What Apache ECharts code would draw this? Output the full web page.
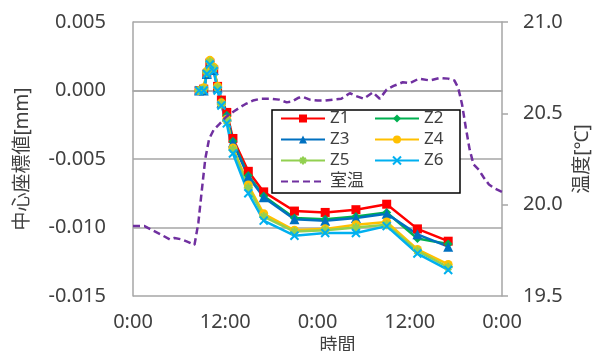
<!DOCTYPE html>
<html>
<head>
<meta charset="utf-8">
<script src="https://cdn.jsdelivr.net/npm/echarts@6/dist/echarts.min.js"></script>
<style>
  html, body { margin: 0; padding: 0; background: #fff; }
  #chart { width: 592px; height: 351px; }
</style>
</head>
<body>
<div id="chart"></div>
<script>
// Measurement times (hours from the first 0:00)
const measureHours = [8.6, 9.2, 9.6, 10.0, 10.5, 11.0, 11.5, 12.2, 13.0, 15.0, 17.0, 21.0, 25.0, 29.0, 33.0, 37.0, 41.0];

// Center coordinate values [mm] for each position
const z1 = [0.0000, 0.0001, 0.0012, 0.0020, 0.0015, 0.0003, -0.0007, -0.0016, -0.0035, -0.0059, -0.0074, -0.0088, -0.0089, -0.0087, -0.0083, -0.0101, -0.0110];
const z2 = [0.0000, 0.0001, 0.0013, 0.0021, 0.0016, 0.0003, -0.0008, -0.0018, -0.0037, -0.0062, -0.0077, -0.0093, -0.0094, -0.0092, -0.0089, -0.0108, -0.0112];
const z3 = [0.0000, 0.0000, 0.0012, 0.0020, 0.0015, 0.0002, -0.0009, -0.0019, -0.0038, -0.0063, -0.0078, -0.0094, -0.0095, -0.0093, -0.0090, -0.0105, -0.0114];
const z4 = [0.0000, 0.0002, 0.0014, 0.0022, 0.0017, 0.0003, -0.0009, -0.0021, -0.0042, -0.0069, -0.0090, -0.0102, -0.0101, -0.0098, -0.0096, -0.0116, -0.0127];
const z5 = [0.0000, 0.0001, 0.0013, 0.0021, 0.0016, 0.0002, -0.0010, -0.0022, -0.0043, -0.0071, -0.0092, -0.0103, -0.0102, -0.0100, -0.0098, -0.0117, -0.0129];
const z6 = [0.0000, 0.0000, 0.0012, 0.0019, 0.0014, 0.0000, -0.0011, -0.0024, -0.0046, -0.0075, -0.0095, -0.0106, -0.0104, -0.0104, -0.0099, -0.0119, -0.0131];

// Room temperature log [°C]
const tempHours = [0, 1.5, 2.7, 3.6, 4.8, 5.4, 6.3, 7.2, 8.0, 8.5, 8.8, 9.4, 9.9, 10.5, 11.2, 12.1, 13.1, 14.0, 14.6, 15.6, 16.6, 18.0, 19.0, 20.0, 20.7, 21.5, 22.1, 23.0, 24.0, 25.0, 26.0, 27.1, 28.2, 29.0, 30.0, 31.2, 32.1, 33.0, 33.9, 35.1, 36.0, 37.2, 38.6, 39.9, 41.0, 41.8, 42.3, 42.8, 43.3, 43.8, 44.3, 45.0, 45.6, 46.3, 47.0, 48.0];
const roomTemp = [19.883, 19.883, 19.856, 19.837, 19.81, 19.818, 19.81, 19.795, 19.78, 19.9, 20.02, 20.25, 20.36, 20.41, 20.44, 20.48, 20.51, 20.535, 20.55, 20.57, 20.58, 20.58, 20.575, 20.56, 20.565, 20.585, 20.59, 20.575, 20.57, 20.57, 20.575, 20.58, 20.61, 20.595, 20.58, 20.615, 20.58, 20.63, 20.65, 20.67, 20.665, 20.69, 20.68, 20.694, 20.69, 20.68, 20.64, 20.55, 20.42, 20.3, 20.22, 20.19, 20.15, 20.11, 20.09, 20.07];

// Axis ticks
const xTicks = { min: 0, max: 48, step: 12 };
const yLeftTicks = { min: -0.015, max: 0.005, step: 0.005 };
const yRightTicks = { min: 19.5, max: 21.0, step: 0.5 };

const FONT = "'Noto Sans', 'Noto Sans CJK JP', sans-serif";
const TEXT = '#404040';
const GRID = '#a6a6a6';

const asterisk = 'path://M5,0L5,10M0,5L10,5M1.6,1.6L8.4,8.4M8.4,1.6L1.6,8.4';
const cross = 'path://M0,0L10,10M10,0L0,10';

const zSeries = [
  { name: 'Z1', data: z1, color: '#ff0000', symbol: 'rect', size: 9 },
  { name: 'Z2', data: z2, color: '#00b050', symbol: 'diamond', size: 9 },
  { name: 'Z3', data: z3, color: '#0070c0', symbol: 'triangle', size: 10 },
  { name: 'Z4', data: z4, color: '#ffc000', symbol: 'circle', size: 9 },
  { name: 'Z5', data: z5, color: '#92d050', symbol: asterisk, size: 9, stroke: true },
  { name: 'Z6', data: z6, color: '#00b0f0', symbol: cross, size: 8, stroke: true }
];

const series = zSeries.map(s => ({
  name: s.name,
  type: 'line',
  yAxisIndex: 0,
  data: measureHours.map((h, i) => [h, s.data[i]]),
  symbol: s.symbol,
  symbolSize: s.size,
  showAllSymbol: true,
  lineStyle: { color: s.color, width: 2.5 },
  itemStyle: s.stroke
    ? { color: s.color, borderColor: s.color, borderWidth: 2 }
    : { color: s.color, borderWidth: 0 },
  z: 2
}));

series.push({
  name: '室温',
  type: 'line',
  yAxisIndex: 1,
  data: tempHours.map((h, i) => [h, roomTemp[i]]),
  showSymbol: false,
  symbol: 'none',
  lineStyle: { color: '#7030a0', width: 2.5, type: [7, 4] },
  itemStyle: { color: '#7030a0' },
  z: 3
});

const legendCommon = {
  orient: 'vertical',
  itemWidth: 44,
  itemHeight: 10,
  itemGap: 4,
  padding: 0,
  textStyle: { fontFamily: FONT, fontSize: 17, color: TEXT },
  selectedMode: false,
  z: 6
};

const chart = echarts.init(document.getElementById('chart'), null, { renderer: 'canvas' });
chart.setOption({
  animation: false,
  backgroundColor: '#fff',
  grid: { left: 133, right: 90, top: 22, bottom: 55, containLabel: false, outerBoundsMode: 'none' },
  legend: [
    Object.assign({}, legendCommon, {
      left: 280, top: 110,
      data: ['Z1', 'Z3', 'Z5', { name: '室温', itemStyle: { opacity: 0 } }]
    }),
    Object.assign({}, legendCommon, { left: 374, top: 110, data: ['Z2', 'Z4', 'Z6'] })
  ],
  graphic: [{
    type: 'rect',
    z: 5,
    shape: { x: 272, y: 110, width: 188, height: 83 },
    style: { fill: '#fff', stroke: '#000', lineWidth: 1.5 }
  }],
  xAxis: {
    type: 'value',
    min: xTicks.min, max: xTicks.max, interval: xTicks.step,
    name: '時間',
    nameLocation: 'middle',
    nameGap: 32,
    nameTextStyle: { fontFamily: FONT, fontSize: 18, color: TEXT, padding: [0, 0, 0, 40] },
    axisLine: { show: true, lineStyle: { color: GRID, width: 1.5 } },
    axisTick: { show: false },
    splitLine: { show: false },
    axisLabel: {
      fontFamily: FONT, fontSize: 20, color: TEXT, margin: 16,
      formatter: v => (v % 24) + ':00'
    }
  },
  yAxis: [{
    type: 'value',
    position: 'left',
    min: yLeftTicks.min, max: yLeftTicks.max, interval: yLeftTicks.step,
    name: '中心座標値[mm]',
    nameLocation: 'middle',
    nameRotate: 90,
    nameGap: 101,
    nameTextStyle: { fontFamily: FONT, fontSize: 19, color: TEXT },
    axisLine: { show: true, lineStyle: { color: GRID, width: 1.5 } },
    axisTick: { show: false },
    splitLine: { show: true, lineStyle: { color: GRID, width: 1.5 } },
    axisLabel: {
      fontFamily: FONT, fontSize: 20, color: TEXT, margin: 27,
      formatter: v => v.toFixed(3)
    }
  }, {
    type: 'value',
    position: 'right',
    min: yRightTicks.min, max: yRightTicks.max, interval: yRightTicks.step,
    name: '温度[℃]',
    nameLocation: 'middle',
    nameRotate: 90,
    nameGap: 68,
    nameTextStyle: { fontFamily: FONT, fontSize: 19, color: TEXT },
    axisLine: { show: true, lineStyle: { color: GRID, width: 1.5 } },
    axisTick: { show: true, inside: false, length: 6, lineStyle: { color: GRID, width: 1.5 } },
    splitLine: { show: false },
    axisLabel: {
      fontFamily: FONT, fontSize: 20, color: TEXT, margin: 21,
      formatter: v => v.toFixed(1)
    }
  }],
  series: series
});
</script>
</body>
</html>
